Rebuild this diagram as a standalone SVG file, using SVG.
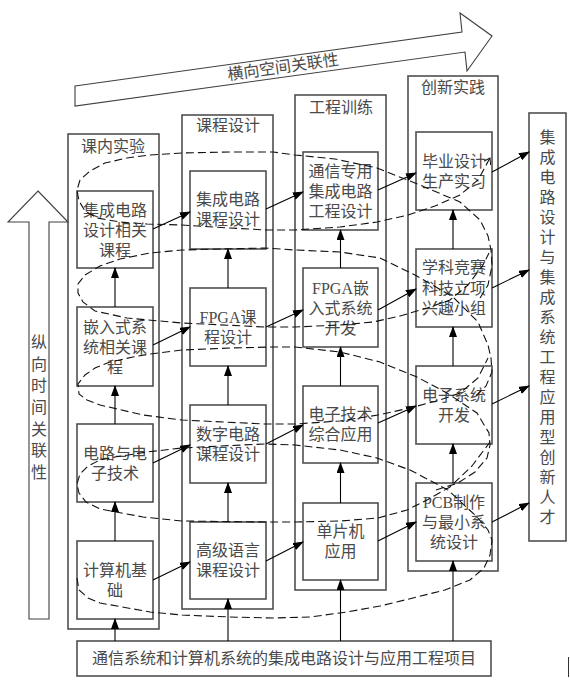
<svg xmlns="http://www.w3.org/2000/svg" width="570" height="687" viewBox="0 0 570 687">
<defs>
<style>
.col{fill:none;stroke:#505050;stroke-width:1.6}
.box{fill:#fff;stroke:#505050;stroke-width:1.6}
.t{font-family:"Liberation Serif","Noto Sans CJK SC",serif;font-size:16px;fill:#4a4a4a;text-anchor:middle;dominant-baseline:central}
.c{stroke:#000;stroke-width:1.1;fill:none}
.d{stroke:#111;stroke-width:1.1;fill:none;stroke-dasharray:8 4}
.big{fill:#fff;stroke:#404040;stroke-width:1.1}
</style>
<marker id="ah" markerWidth="11" markerHeight="8" refX="10" refY="4" orient="auto" markerUnits="userSpaceOnUse">
<path d="M0,0 L11,4 L0,8 z" fill="#000"/>
</marker>
<marker id="oh" markerWidth="8" markerHeight="8" refX="6" refY="4" orient="auto" markerUnits="userSpaceOnUse">
<path d="M0,0 L6,4 L0,8" fill="none" stroke="#111" stroke-width="1"/>
</marker>
</defs>
<rect width="570" height="687" fill="#fff"/>

<g id="top-arrow">
<polygon class="big" points="75,86 462,32 460,13 492,36 467,71 465,52 75,106"/>
<text class="t" transform="translate(283,67) rotate(-8)">横向空间关联性</text>
</g>

<g id="left-arrow">
<polygon class="big" points="38,191 68,222 49,222 49,619 29,619 29,222 8,222"/>
<text class="t"><tspan x="39" y="342">纵</tspan><tspan x="39" y="363.7">向</tspan><tspan x="39" y="385.3">时</tspan><tspan x="39" y="407">间</tspan><tspan x="39" y="428.7">关</tspan><tspan x="39" y="450.3">联</tspan><tspan x="39" y="472">性</tspan></text>
</g>

<g id="col1">
<rect class="col" x="68" y="134" width="91" height="495"/>
<text class="t" x="113" y="146">课内实验</text>
</g>
<g id="col2">
<rect class="col" x="182" y="115" width="91" height="494"/>
<text class="t" x="228" y="125">课程设计</text>
</g>
<g id="col3">
<rect class="col" x="295" y="95" width="91" height="495"/>
<text class="t" x="341" y="107">工程训练</text>
</g>
<g id="col4">
<rect class="col" x="408" y="76" width="90" height="495"/>
<text class="t" x="453" y="87">创新实践</text>
</g>

<g id="n11"><rect class="box" x="77" y="191" width="76" height="77"/><text class="t"><tspan x="115" y="209.5">集成电路</tspan><tspan x="115" y="229.5">设计相关</tspan><tspan x="115" y="249.5">课程</tspan></text></g>
<g id="n12"><rect class="box" x="77" y="307" width="76" height="79"/><text class="t"><tspan x="115" y="326.5">嵌入式系</tspan><tspan x="115" y="346.5">统相关课</tspan><tspan x="115" y="366.5">程</tspan></text></g>
<g id="n13"><rect class="box" x="77" y="424" width="76" height="78"/><text class="t"><tspan x="115" y="453">电路与电</tspan><tspan x="115" y="473">子技术</tspan></text></g>
<g id="n14"><rect class="box" x="77" y="541" width="76" height="78"/><text class="t"><tspan x="115" y="570">计算机基</tspan><tspan x="115" y="590">础</tspan></text></g>

<g id="n21"><rect class="box" x="190" y="171" width="76" height="78"/><text class="t"><tspan x="228" y="199">集成电路</tspan><tspan x="228" y="219">课程设计</tspan></text></g>
<g id="n22"><rect class="box" x="190" y="288" width="76" height="78"/><text class="t"><tspan x="228" y="317">FPGA课</tspan><tspan x="228" y="337">程设计</tspan></text></g>
<g id="n23"><rect class="box" x="190" y="405" width="76" height="78"/><text class="t"><tspan x="228" y="434">数字电路</tspan><tspan x="228" y="454">课程设计</tspan></text></g>
<g id="n24"><rect class="box" x="190" y="522" width="76" height="77"/><text class="t"><tspan x="228" y="550">高级语言</tspan><tspan x="228" y="570">课程设计</tspan></text></g>

<g id="n31"><rect class="box" x="303" y="152" width="75" height="78"/><text class="t"><tspan x="340.5" y="171">通信专用</tspan><tspan x="340.5" y="191">集成电路</tspan><tspan x="340.5" y="211">工程设计</tspan></text></g>
<g id="n32"><rect class="box" x="303" y="268" width="75" height="79"/><text class="t"><tspan x="340.5" y="288">FPGA嵌</tspan><tspan x="340.5" y="308">入式系统</tspan><tspan x="340.5" y="328">开发</tspan></text></g>
<g id="n33"><rect class="box" x="303" y="386" width="75" height="77"/><text class="t"><tspan x="340.5" y="414">电子技术</tspan><tspan x="340.5" y="434">综合应用</tspan></text></g>
<g id="n34"><rect class="box" x="303" y="503" width="75" height="77"/><text class="t"><tspan x="340.5" y="531">单片机</tspan><tspan x="340.5" y="551">应用</tspan></text></g>

<g id="n41"><rect class="box" x="416" y="132" width="76" height="78"/><text class="t"><tspan x="454" y="161">毕业设计</tspan><tspan x="454" y="181">生产实习</tspan></text></g>
<g id="n42"><rect class="box" x="416" y="249" width="76" height="78"/><text class="t"><tspan x="454" y="267">学科竞赛</tspan><tspan x="454" y="287.5">科技立项</tspan><tspan x="454" y="308">兴趣小组</tspan></text></g>
<g id="n43"><rect class="box" x="416" y="366" width="76" height="78"/><text class="t"><tspan x="454" y="395">电子系统</tspan><tspan x="454" y="415">开发</tspan></text></g>
<g id="n44"><rect class="box" x="416" y="483" width="76" height="78"/><text class="t"><tspan x="454" y="502">PCB制作</tspan><tspan x="454" y="522">与最小系</tspan><tspan x="454" y="542">统设计</tspan></text></g>

<g id="target">
<rect class="box" x="529" y="113" width="37" height="428"/>
<text class="t"><tspan x="547.5" y="137">集</tspan><tspan x="547.5" y="157">成</tspan><tspan x="547.5" y="177">电</tspan><tspan x="547.5" y="197">路</tspan><tspan x="547.5" y="217">设</tspan><tspan x="547.5" y="237">计</tspan><tspan x="547.5" y="257">与</tspan><tspan x="547.5" y="277">集</tspan><tspan x="547.5" y="297">成</tspan><tspan x="547.5" y="317">系</tspan><tspan x="547.5" y="337">统</tspan><tspan x="547.5" y="357">工</tspan><tspan x="547.5" y="377">程</tspan><tspan x="547.5" y="397">应</tspan><tspan x="547.5" y="417">用</tspan><tspan x="547.5" y="437">型</tspan><tspan x="547.5" y="457">创</tspan><tspan x="547.5" y="477">新</tspan><tspan x="547.5" y="497">人</tspan><tspan x="547.5" y="517">才</tspan></text>
</g>

<g id="base">
<rect class="box" x="77" y="641" width="414" height="35"/>
<text class="t" x="284" y="658">通信系统和计算机系统的集成电路设计与应用工程项目</text>
</g>

<g id="connectors">
<line class="c" x1="115" y1="541" x2="115" y2="502" marker-end="url(#ah)"/>
<line class="c" x1="115" y1="424" x2="115" y2="386" marker-end="url(#ah)"/>
<line class="c" x1="115" y1="307" x2="115" y2="268" marker-end="url(#ah)"/>
<line class="c" x1="228" y1="522" x2="228" y2="483" marker-end="url(#ah)"/>
<line class="c" x1="228" y1="405" x2="228" y2="366" marker-end="url(#ah)"/>
<line class="c" x1="228" y1="288" x2="228" y2="249" marker-end="url(#ah)"/>
<line class="c" x1="340.5" y1="503" x2="340.5" y2="463" marker-end="url(#ah)"/>
<line class="c" x1="340.5" y1="386" x2="340.5" y2="347" marker-end="url(#ah)"/>
<line class="c" x1="340.5" y1="268" x2="340.5" y2="230" marker-end="url(#ah)"/>
<line class="c" x1="453" y1="483" x2="453" y2="444" marker-end="url(#ah)"/>
<line class="c" x1="453" y1="366" x2="453" y2="327" marker-end="url(#ah)"/>
<line class="c" x1="453" y1="249" x2="453" y2="210" marker-end="url(#ah)"/>
<line class="c" x1="115" y1="641" x2="115" y2="619" marker-end="url(#ah)"/>
<line class="c" x1="228" y1="641" x2="228" y2="599" marker-end="url(#ah)"/>
<line class="c" x1="340.5" y1="641" x2="340.5" y2="580" marker-end="url(#ah)"/>
<line class="c" x1="453" y1="641" x2="453" y2="561" marker-end="url(#ah)"/>
<line class="c" x1="153" y1="229" x2="190" y2="212" marker-end="url(#ah)"/>
<line class="c" x1="153" y1="345" x2="190" y2="327" marker-end="url(#ah)"/>
<line class="c" x1="153" y1="463" x2="190" y2="445" marker-end="url(#ah)"/>
<line class="c" x1="153" y1="580" x2="190" y2="562" marker-end="url(#ah)"/>
<line class="c" x1="266" y1="209" x2="303" y2="192" marker-end="url(#ah)"/>
<line class="c" x1="266" y1="327" x2="303" y2="310" marker-end="url(#ah)"/>
<line class="c" x1="266" y1="444" x2="303" y2="425" marker-end="url(#ah)"/>
<line class="c" x1="266" y1="561" x2="303" y2="542" marker-end="url(#ah)"/>
<line class="c" x1="378" y1="190" x2="416" y2="173" marker-end="url(#ah)"/>
<line class="c" x1="378" y1="310" x2="416" y2="289" marker-end="url(#ah)"/>
<line class="c" x1="378" y1="423" x2="416" y2="406" marker-end="url(#ah)"/>
<line class="c" x1="378" y1="541" x2="416" y2="522" marker-end="url(#ah)"/>
<line class="c" x1="492" y1="172" x2="529" y2="152" marker-end="url(#ah)"/>
<line class="c" x1="492" y1="288" x2="529" y2="270" marker-end="url(#ah)"/>
<line class="c" x1="492" y1="404" x2="529" y2="386" marker-end="url(#ah)"/>
<line class="c" x1="492" y1="522" x2="529" y2="503" marker-end="url(#ah)"/>
</g>

<g id="spiral">
<polyline class="d" marker-end="url(#oh)" points="480,298 488,285 492,266 491,250 488,236 480,220 460,202 420,185 377,168 335,159 295,155 273,152 230,152 182,153 150,155 127,158 105,163 90,171 80,180 77,190 79,201 85,211 97,218 120,222 147,224 182,225 230,228 267,230 295,230 340,227 377,222 408,215 435,206 460,195 478,180 490,158"/>
<polyline class="d" points="476,396 486,386 492,372 491,358 488,345 478,322 453,297 415,275 380,258 340,252 295,250 265,248 220,249 182,250 150,253 120,259 100,266 85,275 78,284 78,293 83,302 95,311 127,318 182,323 265,327 295,327 340,325 373,322 400,316 427,308 450,300 468,285 483,265 489,253"/>
<polyline class="d" points="436,490 458,483 475,472 487,458 490,445 489,433 477,413 447,393 417,377 380,362 340,352 295,347 273,347 230,348 182,350 150,354 133,357 110,362 95,368 85,375 78,384 79,394 87,400 100,405 143,415 182,420 265,424 295,424 340,421 378,415 410,408 440,400 460,393 478,378 488,358"/>
<polyline class="d" points="77,578 79,590 88,598 100,603 150,612 182,615 230,617 273,618 310,617 347,612 380,606 413,598 445,590 470,580 484,568 490,555 492,540 488,530 477,517 448,490 410,470 377,458 340,450 295,445 265,444 220,446 182,448 147,452 115,457 100,460 88,466 80,474 77,484 79,493 86,502 100,509 143,517 182,521 265,522 295,522 340,521 378,518 407,510 427,500 450,487 472,466 490,442"/>
</g>

<line x1="568.5" y1="657" x2="568.5" y2="677" stroke="#333" stroke-width="1"/>
</svg>
